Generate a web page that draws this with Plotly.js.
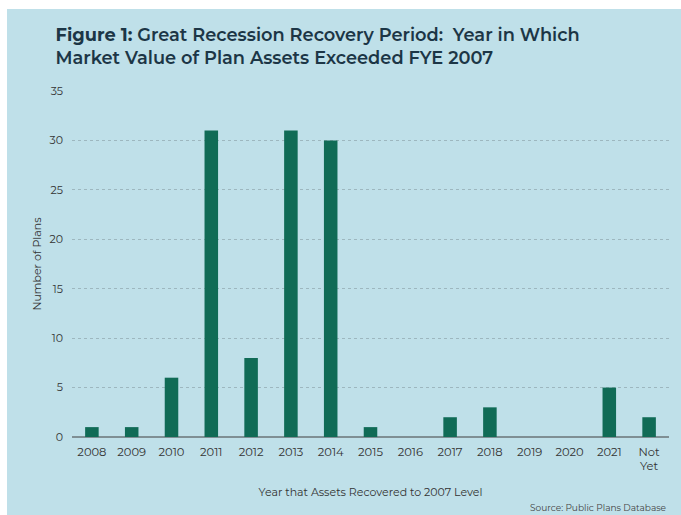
<!DOCTYPE html>
<html>
<head>
<meta charset="utf-8">
<script src="https://cdn.plot.ly/plotly-3.0.1.min.js"></script>
<style>
  html, body { margin: 0; padding: 0; background: #ffffff; width: 681px; height: 515px; overflow: hidden; }
  #chart { position: absolute; left: 7px; top: 9px; width: 674px; height: 506px; }
</style>
</head>
<body>
<div id="chart"></div>
<script>
const categories = ["2008","2009","2010","2011","2012","2013","2014","2015","2016","2017","2018","2019","2020","2021","Not<br>Yet"];
const planCounts = [1, 1, 6, 31, 8, 31, 30, 1, 0, 2, 3, 0, 0, 5, 2];
const yTicks = [0, 5, 10, 15, 20, 25, 30, 35];

const font = "Montserrat, 'Open Sans', Lato, sans-serif";

const data = [{
  type: "bar",
  x: categories,
  y: planCounts,
  marker: { color: "#106b56" },
  hoverinfo: "x+y"
}];

const layout = {
  width: 674,
  height: 506,
  paper_bgcolor: "#bfe0e9",
  plot_bgcolor: "#bfe0e9",
  margin: { l: 65, r: 12, t: 82, b: 78 },
  bargap: 0.66,
  showlegend: false,
  font: { family: font, color: "#3a3a3a", size: 11 },
  title: {
    text: "<b>Figure 1:</b> Great Recession Recovery Period:  Year in Which<br>Market Value of Plan Assets Exceeded FYE 2007",
    font: { family: font, size: 17.8, color: "#1c3646", weight: 600 },
    xref: "container", x: 0.072, xanchor: "left",
    yref: "container", y: 0.937, yanchor: "top"
  },
  xaxis: {
    type: "category",
    tickvals: categories,
    ticktext: categories,
    showgrid: false,
    showline: false,
    ticks: "",
    ticklabelstandoff: 6,
    tickfont: { size: 11.5, color: "#333333" },
    title: { text: "Year that Assets Recovered to 2007 Level", font: { size: 11, color: "#333333" }, standoff: 15 }
  },
  yaxis: {
    range: [0, 35],
    tickvals: yTicks,
    showgrid: true,
    gridcolor: "#9db7bf",
    griddash: "dot",
    gridwidth: 1,
    zeroline: true,
    zerolinecolor: "#7f8f94",
    zerolinewidth: 1.5,
    ticks: "",
    ticklabelstandoff: 8,
    tickfont: { size: 11, color: "#333333" },
    title: { text: "Number of Plans", font: { size: 11, color: "#333333" }, standoff: 5 }
  },
  annotations: [{
    text: "Source: Public Plans Database",
    xref: "paper", yref: "paper",
    x: 1, y: -0.205, xanchor: "right", yanchor: "middle",
    showarrow: false,
    font: { size: 9, color: "#444444" }
  }]
};

Plotly.newPlot("chart", data, layout, { displayModeBar: false, staticPlot: true });
</script>
</body>
</html>
